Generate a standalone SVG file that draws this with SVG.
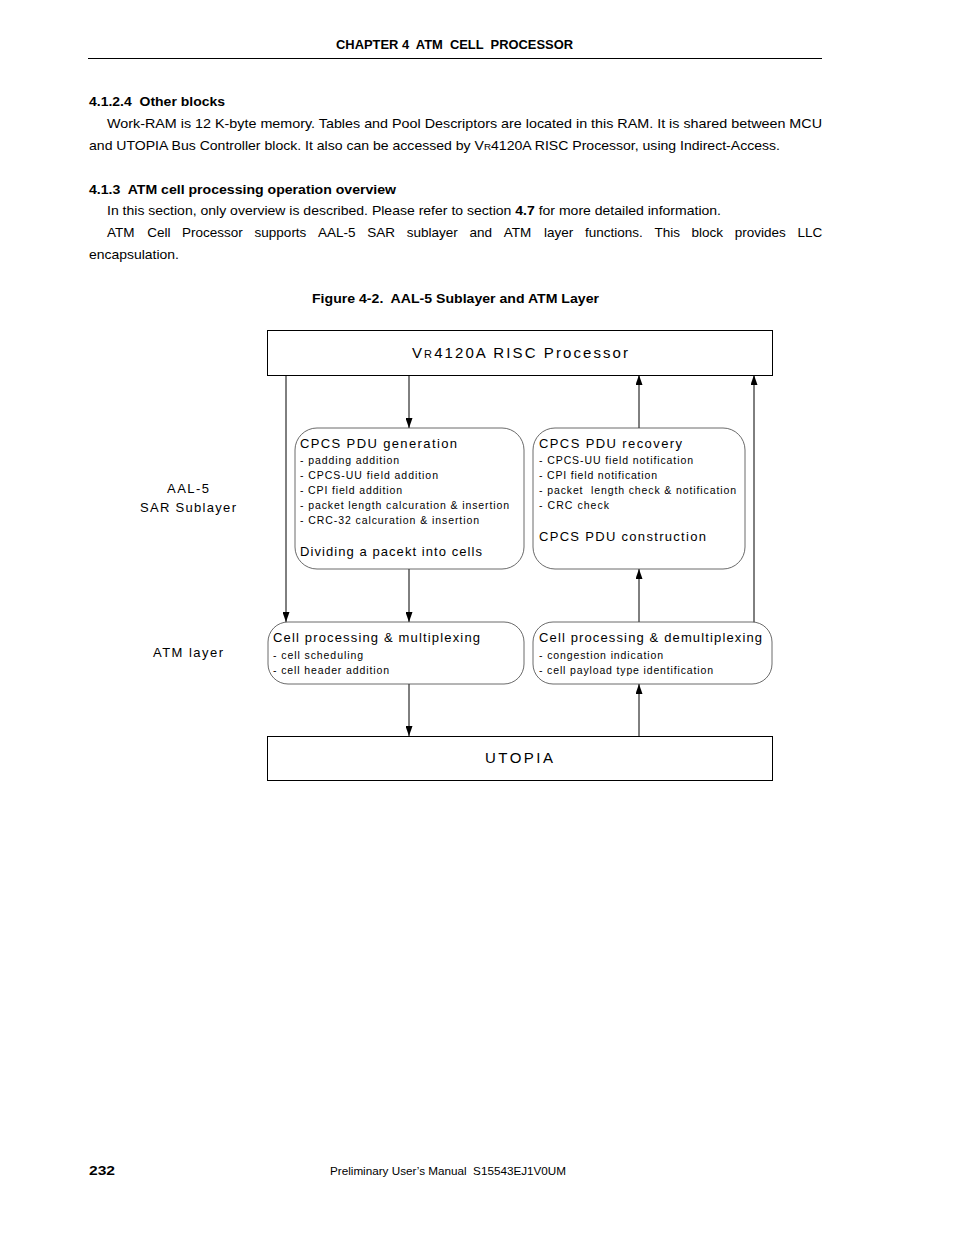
<svg xmlns="http://www.w3.org/2000/svg" width="954" height="1235" viewBox="0 0 954 1235">
<defs>
<marker id="arr" markerUnits="userSpaceOnUse" markerWidth="10" markerHeight="7" refX="10" refY="3.5" orient="auto">
<path d="M0,0 L10,3.5 L0,7 z" fill="#000"/>
</marker>
<style>
.t{font-family:"Liberation Sans",Arial,sans-serif;fill:#000}
.b{font-size:13.5px}
.bd{font-weight:bold}
.h{font-size:12px;font-weight:bold}
.d1{font-size:13px}
.d2{font-size:10.5px}
.big{font-size:15px}
.rect{fill:#fff;stroke:#000;stroke-width:1}
.rr{fill:#fff;stroke:#444;stroke-width:0.8}
.c{stroke:#000;stroke-width:1;fill:none}
</style>
</defs>
<rect width="954" height="1235" fill="#fff"/>

<g id="page-text">
<text class="t h" x="336" y="49" textLength="237" lengthAdjust="spacingAndGlyphs" xml:space="preserve">CHAPTER 4  ATM  CELL  PROCESSOR</text>
<line x1="88" y1="58.5" x2="822" y2="58.5" stroke="#000" stroke-width="1"/>
<text class="t b bd" x="89" y="106" textLength="136" lengthAdjust="spacingAndGlyphs" xml:space="preserve">4.1.2.4  Other blocks</text>
<text class="t b" x="107" y="128" textLength="715" lengthAdjust="spacingAndGlyphs">Work-RAM is 12 K-byte memory. Tables and Pool Descriptors are located in this RAM. It is shared between MCU</text>
<text class="t b" x="89" y="150" textLength="691" lengthAdjust="spacingAndGlyphs">and UTOPIA Bus Controller block. It also can be accessed by V<tspan font-size="9.5">R</tspan>4120A RISC Processor, using Indirect-Access.</text>
<text class="t b bd" x="89" y="194" textLength="307" lengthAdjust="spacingAndGlyphs" xml:space="preserve">4.1.3  ATM cell processing operation overview</text>
<text class="t b" x="107" y="215" textLength="614" lengthAdjust="spacingAndGlyphs">In this section, only overview is described. Please refer to section <tspan font-weight="bold">4.7</tspan> for more detailed information.</text>
<text class="t b" y="237"><tspan x="107">ATM</tspan><tspan x="147.2">Cell</tspan><tspan x="182.1">Processor</tspan><tspan x="254.6">supports</tspan><tspan x="318.1">AAL-5</tspan><tspan x="367.3">SAR</tspan><tspan x="406.8">sublayer</tspan><tspan x="469.5">and</tspan><tspan x="503.7">ATM</tspan><tspan x="543.9">layer</tspan><tspan x="584.9">functions.</tspan><tspan x="654.4">This</tspan><tspan x="691.6">block</tspan><tspan x="734.8">provides</tspan><tspan x="797.5">LLC</tspan></text>
<text class="t b" x="89" y="259" textLength="90" lengthAdjust="spacingAndGlyphs">encapsulation.</text>
<text class="t b bd" x="312" y="303" textLength="287" lengthAdjust="spacingAndGlyphs" xml:space="preserve">Figure 4-2.  AAL-5 Sublayer and ATM Layer</text>
<text class="t b bd" x="89" y="1175" textLength="26" lengthAdjust="spacingAndGlyphs">232</text>
<text class="t" font-size="11.5" x="330" y="1175" textLength="236" lengthAdjust="spacingAndGlyphs" xml:space="preserve">Preliminary User’s Manual  S15543EJ1V0UM</text>
</g>

<g id="layer-labels">
<text class="t d1" x="167" y="493" textLength="42" lengthAdjust="spacing">AAL-5</text>
<text class="t d1" x="140" y="512" textLength="96" lengthAdjust="spacing">SAR Sublayer</text>
<text class="t d1" x="153" y="657" textLength="70" lengthAdjust="spacing">ATM layer</text>
</g>

<g id="connectors">
<line class="c" x1="286" y1="375" x2="286" y2="622" marker-end="url(#arr)"/>
<line class="c" x1="409" y1="375" x2="409" y2="428" marker-end="url(#arr)"/>
<line class="c" x1="639" y1="428" x2="639" y2="375" marker-end="url(#arr)"/>
<line class="c" x1="754" y1="622" x2="754" y2="375" marker-end="url(#arr)"/>
<line class="c" x1="409" y1="569" x2="409" y2="622" marker-end="url(#arr)"/>
<line class="c" x1="639" y1="622" x2="639" y2="569" marker-end="url(#arr)"/>
<line class="c" x1="409" y1="684" x2="409" y2="736" marker-end="url(#arr)"/>
<line class="c" x1="639" y1="736" x2="639" y2="684" marker-end="url(#arr)"/>
</g>

<g id="risc">
<rect class="rect" x="267.5" y="330.5" width="505" height="45"/>
<text class="t big" x="412" y="358" textLength="216" lengthAdjust="spacing">V<tspan font-size="11">R</tspan>4120A RISC Processor</text>
</g>

<g id="cpcs-gen">
<rect class="rr" x="295" y="428" width="229" height="141" rx="22" ry="22"/>
<text class="t d1" x="300" y="448" textLength="157" lengthAdjust="spacing">CPCS PDU generation</text>
<text class="t d2" x="300" y="464" textLength="99" lengthAdjust="spacing">- padding addition</text>
<text class="t d2" x="300" y="479" textLength="138" lengthAdjust="spacing">- CPCS-UU field addition</text>
<text class="t d2" x="300" y="494" textLength="102" lengthAdjust="spacing">- CPI field addition</text>
<text class="t d2" x="300" y="509" textLength="209" lengthAdjust="spacing">- packet length calcuration &amp; insertion</text>
<text class="t d2" x="300" y="524" textLength="179" lengthAdjust="spacing">- CRC-32 calcuration &amp; insertion</text>
<text class="t d1" x="300" y="556" textLength="182" lengthAdjust="spacing">Dividing a pacekt into cells</text>
</g>

<g id="cpcs-rec">
<rect class="rr" x="533" y="428" width="212" height="141" rx="22" ry="22"/>
<text class="t d1" x="539" y="448" textLength="143" lengthAdjust="spacing">CPCS PDU recovery</text>
<text class="t d2" x="539" y="464" textLength="154" lengthAdjust="spacing">- CPCS-UU field notification</text>
<text class="t d2" x="539" y="479" textLength="118" lengthAdjust="spacing">- CPI field notification</text>
<text class="t d2" x="539" y="494" textLength="197" lengthAdjust="spacing" xml:space="preserve">- packet  length check &amp; notification</text>
<text class="t d2" x="539" y="509" textLength="70" lengthAdjust="spacing">- CRC check</text>
<text class="t d1" x="539" y="541" textLength="167" lengthAdjust="spacing">CPCS PDU construction</text>
</g>

<g id="cell-mux">
<rect class="rr" x="268" y="622" width="256" height="62" rx="20" ry="20"/>
<text class="t d1" x="273" y="642" textLength="207" lengthAdjust="spacing">Cell processing &amp; multiplexing</text>
<text class="t d2" x="273" y="659" textLength="90" lengthAdjust="spacing">- cell scheduling</text>
<text class="t d2" x="273" y="674" textLength="116" lengthAdjust="spacing">- cell header addition</text>
</g>

<g id="cell-demux">
<rect class="rr" x="533" y="622" width="239" height="62" rx="20" ry="20"/>
<text class="t d1" x="539" y="642" textLength="223" lengthAdjust="spacing">Cell processing &amp; demultiplexing</text>
<text class="t d2" x="539" y="659" textLength="124" lengthAdjust="spacing">- congestion indication</text>
<text class="t d2" x="539" y="674" textLength="174" lengthAdjust="spacing">- cell payload type identification</text>
</g>

<g id="utopia">
<rect class="rect" x="267.5" y="736.5" width="505" height="44"/>
<text class="t big" x="485" y="763" textLength="68" lengthAdjust="spacing">UTOPIA</text>
</g>
</svg>
